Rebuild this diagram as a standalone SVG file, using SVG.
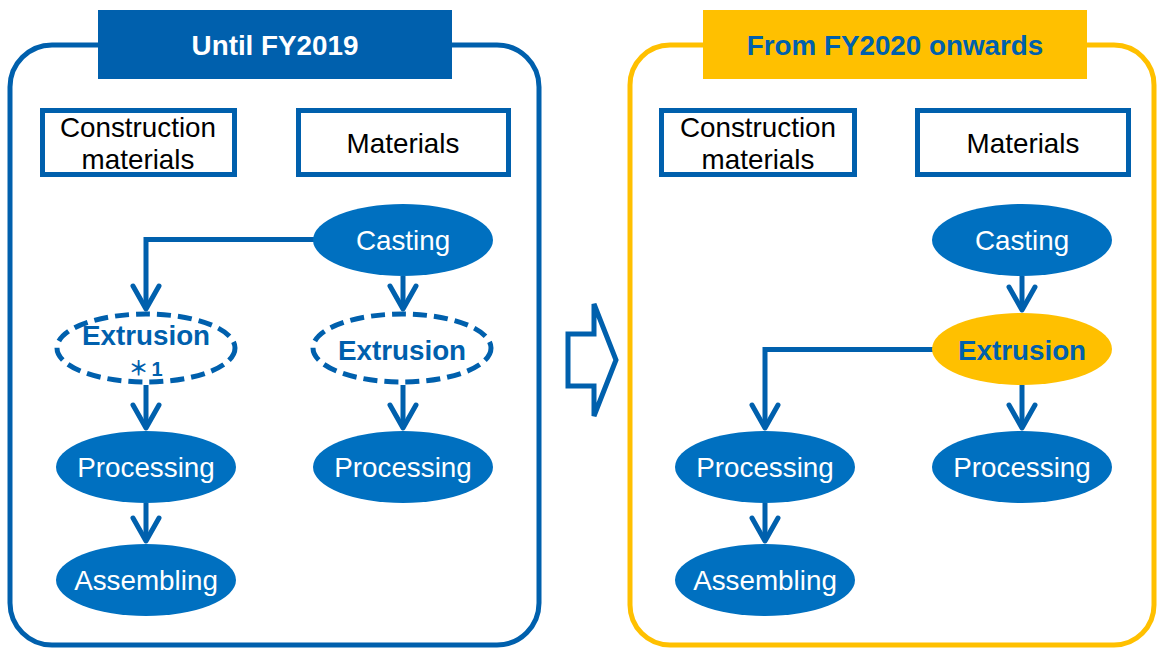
<svg xmlns="http://www.w3.org/2000/svg" width="1157" height="649" viewBox="0 0 1157 649">
<defs>
<style>
.frameB{fill:none;stroke:#0060AD;stroke-width:5}
.frameY{fill:none;stroke:#FFC000;stroke-width:5}
.box{fill:#fff;stroke:#0060AD;stroke-width:5}
.ell{fill:#0070C0}
.dash{fill:#fff;stroke:#0060AD;stroke-width:5;stroke-dasharray:14 7}
.ellY{fill:#FFC000}
.t{font-family:"Liberation Sans",Arial,sans-serif;font-size:27.8px;text-anchor:middle}
.tb{font-family:"Liberation Sans",Arial,sans-serif;font-size:27.8px;font-weight:bold;text-anchor:middle}
.note{font-family:"Liberation Sans","Noto Sans CJK JP",sans-serif;font-size:20px;font-weight:bold;text-anchor:middle;letter-spacing:3px}
.blk{fill:#000}
.wht{fill:#fff}
.blu{fill:#0060AD}
.conn{fill:none;stroke:#0060AD;stroke-width:5;marker-end:url(#chev)}
</style>
<marker id="chev" markerUnits="userSpaceOnUse" viewBox="-28 -17 32 34" markerWidth="32" markerHeight="34" refX="0" refY="0" orient="auto" overflow="visible">
<path d="M-23,-13 L0,0 L-23,13" fill="none" stroke="#0060AD" stroke-width="5" stroke-linecap="round" stroke-linejoin="round"/>
</marker>
</defs>

<g id="panel-left">
<rect class="frameB" x="10" y="45" width="529" height="600" rx="42"/>
<rect x="98" y="10" width="354" height="69" fill="#0060AD"/>
<text class="tb wht" x="275" y="55">Until FY2019</text>
</g>
<g id="panel-right">
<rect class="frameY" x="630" y="45" width="524" height="600" rx="40"/>
<rect x="703" y="10" width="384" height="69" fill="#FFC000"/>
<text class="tb blu" x="895" y="55">From FY2020 onwards</text>
</g>

<g id="big-arrow">
<path d="M568,334 L594,334 L594,304 L616,360 L594,416 L594,386 L568,386 Z" fill="#fff" stroke="#0060AD" stroke-width="5" stroke-linejoin="miter"/>
</g>

<g id="connectors">
<path class="conn" d="M314,239.5 H146 V309"/>
<path class="conn" d="M403,276 V309"/>
<path class="conn" d="M146,385 V428"/>
<path class="conn" d="M403,385 V428"/>
<path class="conn" d="M146,503 V541"/>
<path class="conn" d="M1022,276 V310"/>
<path class="conn" d="M933,349.5 H765 V428"/>
<path class="conn" d="M1022,385 V428"/>
<path class="conn" d="M765,503 V541"/>
</g>

<g id="L-construction">
<rect class="box" x="42.5" y="110.5" width="192" height="64"/>
<text class="t blk" x="138" y="137">Construction</text>
<text class="t blk" x="138" y="169">materials</text>
</g>
<g id="L-materials">
<rect class="box" x="298.5" y="110.5" width="210" height="64"/>
<text class="t blk" x="403" y="153">Materials</text>
</g>
<g id="L-casting">
<ellipse class="ell" cx="403" cy="240" rx="90" ry="36"/>
<text class="t wht" x="403" y="250">Casting</text>
</g>
<g id="L-extrusion1">
<ellipse class="dash" cx="146" cy="348" rx="89" ry="34"/>
<text class="tb blu" x="146" y="345">Extrusion</text>
<text class="note blu" x="147" y="376">＊1</text>
</g>
<g id="L-extrusion2">
<ellipse class="dash" cx="402" cy="348" rx="89" ry="34"/>
<text class="tb blu" x="402" y="360">Extrusion</text>
</g>
<g id="L-processing1">
<ellipse class="ell" cx="146" cy="467" rx="90" ry="36"/>
<text class="t wht" x="146" y="477">Processing</text>
</g>
<g id="L-processing2">
<ellipse class="ell" cx="403" cy="467" rx="90" ry="36"/>
<text class="t wht" x="403" y="477">Processing</text>
</g>
<g id="L-assembling">
<ellipse class="ell" cx="146" cy="580" rx="90" ry="36"/>
<text class="t wht" x="146" y="590">Assembling</text>
</g>

<g id="R-construction">
<rect class="box" x="661.5" y="110.5" width="193" height="64"/>
<text class="t blk" x="758" y="137">Construction</text>
<text class="t blk" x="758" y="169">materials</text>
</g>
<g id="R-materials">
<rect class="box" x="917.5" y="110.5" width="211" height="64"/>
<text class="t blk" x="1023" y="153">Materials</text>
</g>
<g id="R-casting">
<ellipse class="ell" cx="1022" cy="240" rx="90" ry="36"/>
<text class="t wht" x="1022" y="250">Casting</text>
</g>
<g id="R-extrusion">
<ellipse class="ellY" cx="1022" cy="349" rx="90" ry="36"/>
<text class="tb blu" x="1022" y="360">Extrusion</text>
</g>
<g id="R-processing1">
<ellipse class="ell" cx="765" cy="467" rx="90" ry="36"/>
<text class="t wht" x="765" y="477">Processing</text>
</g>
<g id="R-processing2">
<ellipse class="ell" cx="1022" cy="467" rx="90" ry="36"/>
<text class="t wht" x="1022" y="477">Processing</text>
</g>
<g id="R-assembling">
<ellipse class="ell" cx="765" cy="580" rx="90" ry="36"/>
<text class="t wht" x="765" y="590">Assembling</text>
</g>
</svg>
